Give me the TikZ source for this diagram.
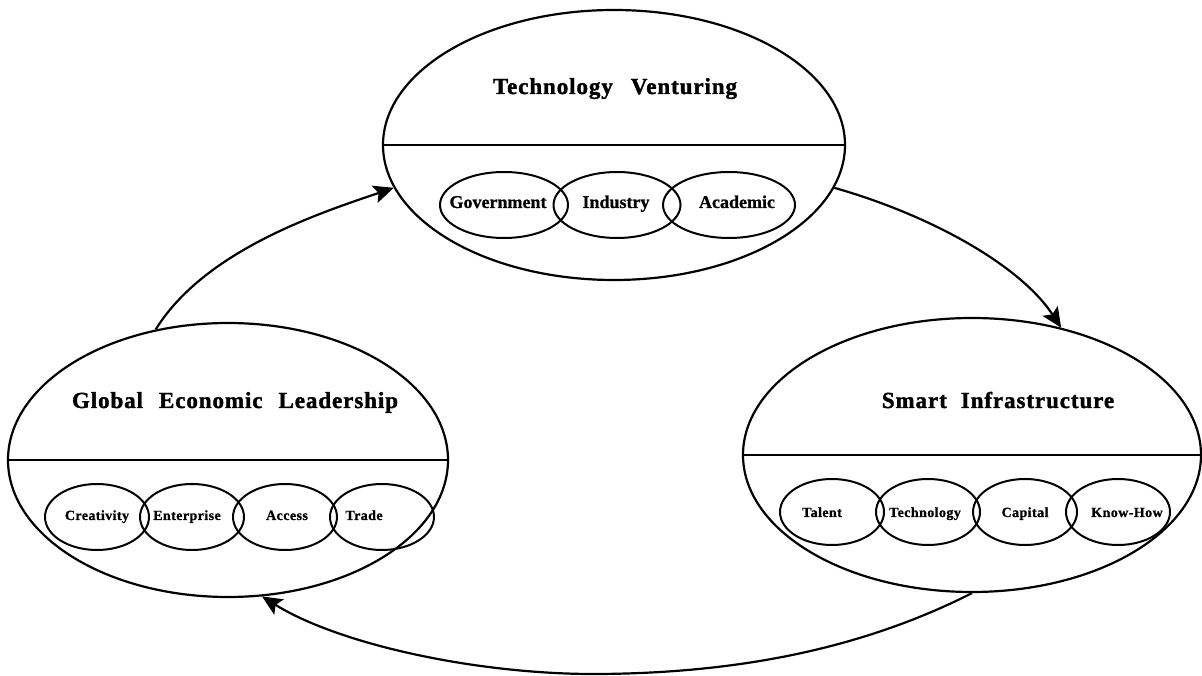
\documentclass[tikz,border=0pt]{standalone}
\usepackage{fontspec}
\setmainfont{Liberation Serif}[BoldFeatures={FakeBold=1}]
\newfontfamily\ttlfont{Liberation Serif}[LetterSpace=4,BoldFeatures={FakeBold=1.5}]
\newfontfamily\lblfont{Liberation Serif}[LetterSpace=3,BoldFeatures={FakeBold=1}]
\usetikzlibrary{shapes.geometric,arrows.meta}
\begin{document}
\begin{tikzpicture}[x=1pt,y=1pt,
  big/.style={ellipse,draw,line width=2.2pt,inner sep=0pt,minimum height=274pt},
  sub/.style={ellipse,draw,line width=2pt,inner sep=0pt,minimum height=66pt,minimum width=#1},
  sub/.default=104pt,
  ttl/.style={anchor=base,inner sep=0pt,font=\fontsize{23}{26}\selectfont\ttlfont\bfseries},
  toplbl/.style={anchor=base,inner sep=0pt,font=\fontsize{18}{20}\selectfont\bfseries},
  lbl/.style={anchor=base,inner sep=0pt,font=\fontsize{14}{16}\selectfont\lblfont\bfseries},
  divider/.style={line width=2pt},
  flow/.style={line width=2.2pt,-{Stealth[length=20pt,width=18pt,inset=4pt]}}
]
\useasboundingbox (0,0) rectangle (1202,675);

% big ellipses
\node[big,minimum width=462pt,minimum height=270pt] (tv) at (614,530) {};
\node[big,minimum width=440pt] (gel) at (228,215) {};
\node[big,minimum width=458pt] (si) at (972,220) {};

\draw[divider] (tv.west) -- (tv.east);
\draw[divider] (gel.west) -- (gel.east);
\draw[divider] (si.west) -- (si.east);

% titles
\node[ttl] (tvt) at (615,581) {Technology\hspace{18pt}Venturing};
\node[ttl] (gelt) at (235,267) {Global\hspace{16pt}Economic\hspace{16pt}Leadership};
\node[ttl] (sit) at (998,267) {Smart\hspace{14pt}Infrastructure};

% top sub-ellipses
\node[sub=128pt] (gov) at (504,470) {};
\node[sub=127pt] (ind) at (617,470) {};
\node[sub=132pt] (aca) at (729,470) {};
\node[toplbl] (govt) at (498,467) {Government};
\node[toplbl] (indt) at (616,467) {Industry};
\node[toplbl] (acat) at (737,467) {Academic};

% left sub-ellipses
\node[sub] (cre) at (97,158) {};
\node[sub] (ent) at (192,158) {};
\node[sub] (acc) at (285,158) {};
\node[sub] (tra) at (382,158) {};
\node[lbl] (cret) at (97,155) {Creativity};
\node[lbl] (entt) at (187,155) {Enterprise};
\node[lbl] (acct) at (287,155) {Access};
\node[lbl] (trat) at (364,155) {Trade};

% right sub-ellipses
\node[sub] (tal) at (832,163) {};
\node[sub] (tec) at (928,163) {};
\node[sub] (cap) at (1025,163) {};
\node[sub] (kno) at (1118,163) {};
\node[lbl] (talt) at (822,158) {Talent};
\node[lbl] (tect) at (925,158) {Technology};
\node[lbl] (capt) at (1025,158) {Capital};
\node[lbl] (knot) at (1127,158) {Know-How};

% connectors
\draw[flow] (gel.119.7) .. controls (205,425) and (320,462) .. (tv.191.2);
\draw[flow] (tv.-11) .. controls (930,460) and (1020,410) .. (si.55.6);
\draw[flow] (si.-90) .. controls (850,20) and (720,2) .. (600,1)
  .. controls (480,0) and (340,30) .. (gel.-76);
\end{tikzpicture}
\end{document}
